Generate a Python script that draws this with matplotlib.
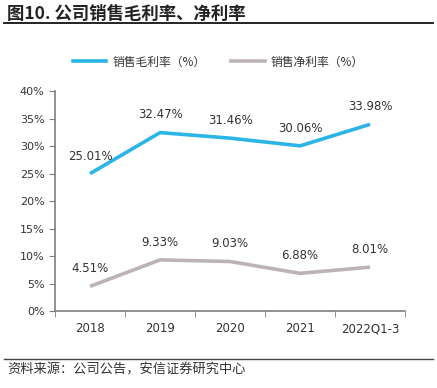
import matplotlib.pyplot as plt
from matplotlib.lines import Line2D

plt.rcParams['font.family'] = ['Noto Sans CJK SC', 'DejaVu Sans']

years = ["2018", "2019", "2020", "2021", "2022Q1-3"]
gross_margin = [25.01, 32.47, 31.46, 30.06, 33.98]
net_margin = [4.51, 9.33, 9.03, 6.88, 8.01]

blue = "#2BB5E6"
grey = "#BDB3B3"

fig = plt.figure(figsize=(4.37, 3.88), dpi=100)
ax = fig.add_axes([0.126, 0.198, 0.801, 0.567])

x = list(range(len(years)))
ax.plot(x, gross_margin, color=blue, linewidth=2.6, solid_capstyle="butt")
ax.plot(x, net_margin, color=grey, linewidth=2.6, solid_capstyle="butt")

for xi, v in zip(x, gross_margin):
    ax.annotate(f"{v:.2f}%", (xi, v), xytext=(0, 8), textcoords="offset points",
                ha="center", va="bottom", fontsize=8.5, color="#333333", family="DejaVu Sans")
for xi, v in zip(x, net_margin):
    ax.annotate(f"{v:.2f}%", (xi, v), xytext=(0, 8), textcoords="offset points",
                ha="center", va="bottom", fontsize=8.5, color="#333333", family="DejaVu Sans")

ax.set_xlim(-0.5, len(years) - 0.5)
ax.set_ylim(0, 40)
ax.set_yticks(range(0, 41, 5))
ax.set_yticklabels([f"{t}%" for t in range(0, 41, 5)], family="DejaVu Sans")
ax.set_xticks(x)
ax.set_xticklabels(years, family="DejaVu Sans")
ax.set_xticks([i + 0.5 for i in range(-1, len(years))], minor=True)
ax.tick_params(axis="x", which="major", length=0, pad=8, labelsize=8.5, labelcolor="#333333")
ax.tick_params(axis="x", which="minor", length=4, direction="out", color="#7F7F7F")
ax.tick_params(axis="y", length=4, direction="out", color="#7F7F7F", labelsize=8, labelcolor="#333333")

for side in ["top", "right"]:
    ax.spines[side].set_visible(False)
for side in ["left", "bottom"]:
    ax.spines[side].set_color("#7F7F7F")
    ax.spines[side].set_linewidth(1.2)

handles = [Line2D([0], [0], color=blue, lw=2.6), Line2D([0], [0], color=grey, lw=2.6)]
fig.legend(handles, ["销售毛利率（%）", "销售净利率（%）"], loc="center", bbox_to_anchor=(0.5, 0.84),
           ncol=2, frameon=False, fontsize=8.5, handlelength=2.8, handletextpad=0.5,
           columnspacing=2.2, labelcolor="#333333")

fig.text(0.016, 0.965, "图10. 公司销售毛利率、净利率", fontsize=12.5, fontweight="bold",
         color="#222222", va="center")
fig.add_artist(Line2D([0.01, 0.99], [0.94, 0.94], color="#111111", lw=1.3))

fig.add_artist(Line2D([0.01, 0.99], [0.074, 0.074], color="#444444", lw=1.0))
fig.text(0.016, 0.047, "资料来源：公司公告，安信证券研究中心", fontsize=9.5, style="italic",
         color="#333333", va="center")

fig.savefig("out.png", dpi=100)
